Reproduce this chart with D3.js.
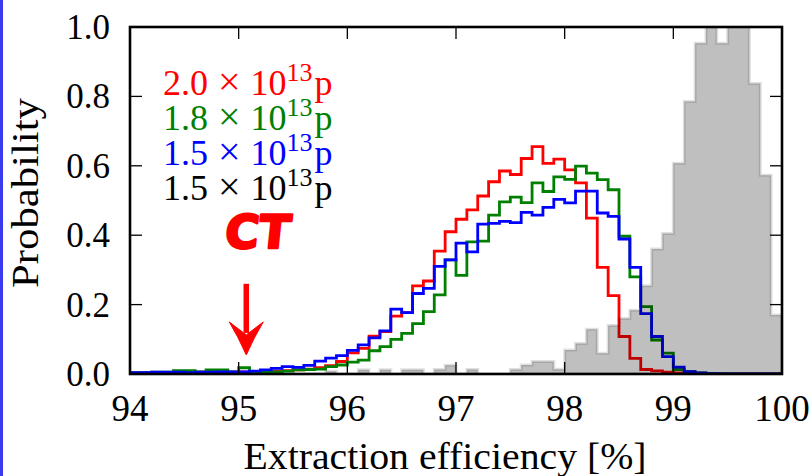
<!DOCTYPE html>
<html><head><meta charset="utf-8">
<script src="https://cdn.jsdelivr.net/npm/d3@7"></script>
<style>body{margin:0;background:#fff}svg{display:block}</style>
</head><body><svg id="c" width="809" height="476"></svg>
<script>
// ---- data: histogram bins of width 0.1 %, from 94.0 to 100.0 ----
const binStart = 94.0;
const binWidth = 0.1;
const red2p0 = [
  0.003,0.003,0.004,0.004,0.003,0.004,0.005,0.004,0.005,0.005,
  0.006,0.005,0.007,0.008,0.010,0.012,0.014,0.018,0.024,0.036,
  0.061,0.074,0.109,0.122,0.167,0.177,0.254,0.268,0.354,0.410,
  0.446,0.473,0.513,0.554,0.585,0.575,0.621,0.655,0.607,0.619,
  0.588,0.551,0.449,0.307,0.226,0.108,0.045,0.013,0.009,0.005,
  0.003,0.002,0.001,0.001,0,0,0,0,0,0];
const green1p8 = [
  0.004,0.004,0.005,0.005,0.010,0.010,0.006,0.012,0.012,0.006,
  0.018,0.007,0.006,0.006,0.008,0.012,0.013,0.014,0.021,0.026,
  0.034,0.040,0.067,0.079,0.100,0.117,0.145,0.180,0.228,0.329,
  0.284,0.381,0.383,0.458,0.496,0.510,0.494,0.551,0.526,0.568,
  0.561,0.599,0.579,0.560,0.531,0.397,0.280,0.194,0.098,0.060,
  0.013,0.007,0.003,0.002,0.001,0,0,0,0,0];
const blue1p5 = [
  0.004,0.004,0.005,0.005,0.005,0.004,0.005,0.005,0.006,0.006,
  0.006,0.008,0.012,0.016,0.021,0.019,0.025,0.037,0.046,0.053,
  0.068,0.084,0.104,0.124,0.187,0.177,0.232,0.247,0.310,0.329,
  0.377,0.352,0.432,0.434,0.440,0.436,0.466,0.458,0.480,0.503,
  0.493,0.527,0.527,0.464,0.454,0.389,0.307,0.174,0.108,0.050,
  0.020,0.007,0.003,0.001,0,0,0,0,0,0];
const grey1p5 = [
  0,0,0,0,0,0,0,0,0,0,
  0,0,0,0,0,0,0,0,0.008,0,
  0,0.012,0,0.012,0,0.012,0.012,0,0.013,0.025,
  0,0.013,0,0,0,0.013,0.026,0.036,0.036,0.014,
  0.069,0.088,0.129,0.060,0.140,0.160,0.184,0.254,0.360,0.405,
  0.607,0.785,0.953,1.080,0.953,1.100,1.060,0.837,0.573,0.170];

const xTicks = [94, 95, 96, 97, 98, 99, 100];
const xTickLabels = ["94", "95", "96", "97", "98", "99", "100"];
const yTicks = [0, 0.2, 0.4, 0.6, 0.8, 1.0];
const yTickLabels = ["0.0", "0.2", "0.4", "0.6", "0.8", "1.0"];
const legendItems = [
  {mant: "2.0", exp: "13", color: "#ff0000"},
  {mant: "1.8", exp: "13", color: "#008000"},
  {mant: "1.5", exp: "13", color: "#0000ff"},
  {mant: "1.5", exp: "13", color: "#000000"}];
const ctArrow = {x: 95.07, yFrom: 0.26, yTo: 0.055};

// ---- layout ----
const W = 809, H = 476;
const m = {left: 130, right: 27, top: 27, bottom: 102};
const svg = d3.select("#c");
const x = d3.scaleLinear().domain([94, 100]).range([m.left, W - m.right]);
const y = d3.scaleLinear().domain([0, 1]).range([H - m.bottom, m.top]);
const serif = "'Liberation Serif', 'Times New Roman', serif";

// blue slide border at left
svg.append("rect").attr("x", 0).attr("y", 0).attr("width", 3).attr("height", H).attr("fill", "#3b3bf2");

svg.append("defs").append("clipPath").attr("id", "plotclip")
  .append("rect").attr("x", m.left).attr("y", m.top)
  .attr("width", W - m.left - m.right).attr("height", H - m.top - m.bottom);

function stepPoints(vals) {
  const pts = [[binStart, 0]];
  vals.forEach((v, i) => pts.push([binStart + i * binWidth, v]));
  pts.push([binStart + vals.length * binWidth, vals[vals.length - 1]]);
  pts.push([binStart + vals.length * binWidth, 0]);
  return pts;
}
const line = d3.line().x(d => x(d[0])).y(d => y(d[1])).curve(d3.curveStepAfter);
const area = d3.area().x(d => x(d[0])).y0(y(0)).y1(d => y(d[1])).curve(d3.curveStepAfter);

const g = svg.append("g").attr("clip-path", "url(#plotclip)");
[[red2p0, "#ff0000"], [green1p8, "#008000"], [blue1p5, "#0000ff"]].forEach(([vals, col]) => {
  g.append("path").attr("d", line(stepPoints(vals)))
    .attr("fill", "none").attr("stroke", col).attr("stroke-width", 2.8)
    .attr("stroke-linejoin", "miter");
});
g.append("path").attr("d", area(stepPoints(grey1p5)))
  .attr("fill", "rgba(0,0,0,0.25)").attr("stroke", "rgba(0,0,0,0.12)").attr("stroke-width", 3);

// ---- frame & ticks ----
const x0 = m.left, x1 = W - m.right, y0 = H - m.bottom, y1 = m.top;
const tickLen = 12;
xTicks.forEach(t => {
  svg.append("line").attr("x1", x(t)).attr("x2", x(t)).attr("y1", y0).attr("y2", y0 - tickLen)
    .attr("stroke", "#000").attr("stroke-width", 1.3);
  svg.append("line").attr("x1", x(t)).attr("x2", x(t)).attr("y1", y1).attr("y2", y1 + tickLen)
    .attr("stroke", "#000").attr("stroke-width", 1.3);
});
yTicks.forEach(t => {
  svg.append("line").attr("x1", x0).attr("x2", x0 + tickLen).attr("y1", y(t)).attr("y2", y(t))
    .attr("stroke", "#000").attr("stroke-width", 1.3);
  svg.append("line").attr("x1", x1).attr("x2", x1 - tickLen).attr("y1", y(t)).attr("y2", y(t))
    .attr("stroke", "#000").attr("stroke-width", 1.3);
});
svg.append("rect").attr("x", x0).attr("y", y1).attr("width", x1 - x0).attr("height", y0 - y1)
  .attr("fill", "none").attr("stroke", "#000").attr("stroke-width", 2.6);

// tick labels
xTicks.forEach((t, i) => {
  svg.append("text").attr("x", x(t)).attr("y", y0 + 47).attr("text-anchor", "middle")
    .attr("font-family", serif).attr("font-size", 37).attr("fill", "#000").text(xTickLabels[i]);
});
yTicks.forEach((t, i) => {
  svg.append("text").attr("x", x0 - 20).attr("y", y(t) + 12).attr("text-anchor", "end")
    .attr("font-family", serif).attr("font-size", 35).attr("fill", "#000").text(yTickLabels[i]);
});

// axis labels
svg.append("text").attr("x", (x0 + x1) / 2 - 11).attr("y", 469).attr("text-anchor", "middle")
  .attr("font-family", serif).attr("font-size", 38).attr("fill", "#000")
  .attr("textLength", 403).attr("lengthAdjust", "spacingAndGlyphs")
  .text("Extraction efficiency [%]");
svg.append("text").attr("transform", "translate(38,193) rotate(-90)").attr("text-anchor", "middle")
  .attr("font-family", serif).attr("font-size", 38).attr("fill", "#000")
  .attr("textLength", 190).attr("lengthAdjust", "spacingAndGlyphs")
  .text("Probability");

// legend (mantissa, multiplication sign, power of ten with superscript, unit)
legendItems.forEach((d, i) => {
  const by = 95 + i * 35;
  const t = svg.append("text").attr("x", 163).attr("y", by)
    .attr("font-family", serif).attr("font-size", 36).attr("fill", d.color);
  t.append("tspan").text(d.mant);
  t.append("tspan").attr("dx", 10).attr("font-size", 40).text("\u00d7");
  t.append("tspan").attr("dx", 10).text("10");
  t.append("tspan").attr("dy", -14).attr("font-size", 26).text(d.exp);
  t.append("tspan").attr("dy", 14).attr("dx", 2).text("p");
});

// CT annotation and arrow
svg.append("text").attr("x", x(ctArrow.x) + 10).attr("y", 248).attr("text-anchor", "middle")
  .attr("font-family", "'DejaVu Sans', sans-serif").attr("font-weight", "bold")
  .attr("transform", `skewX(-6) translate(${248 * 0.105},0)`)
  .attr("font-size", 46).attr("fill", "#ff0000")
  .attr("stroke", "#ff0000").attr("stroke-width", 2.6).attr("stroke-linejoin", "round")
  .text("CT");
const ax = x(ctArrow.x), ayF = y(ctArrow.yFrom), ayT = y(ctArrow.yTo);
svg.append("line").attr("x1", ax).attr("x2", ax).attr("y1", ayF).attr("y2", ayT - 22)
  .attr("stroke", "#ff0000").attr("stroke-width", 5.5);
svg.append("path")
  .attr("d", `M${ax - 17},${ayT - 33} Q${ax - 8},${ayT - 18} ${ax},${ayT} Q${ax + 8},${ayT - 18} ${ax + 17},${ayT - 33} L${ax},${ayT - 20} Z`)
  .attr("fill", "#ff0000").attr("stroke", "#ff0000").attr("stroke-width", 1).attr("stroke-linejoin", "round");
</script>
</body></html>
